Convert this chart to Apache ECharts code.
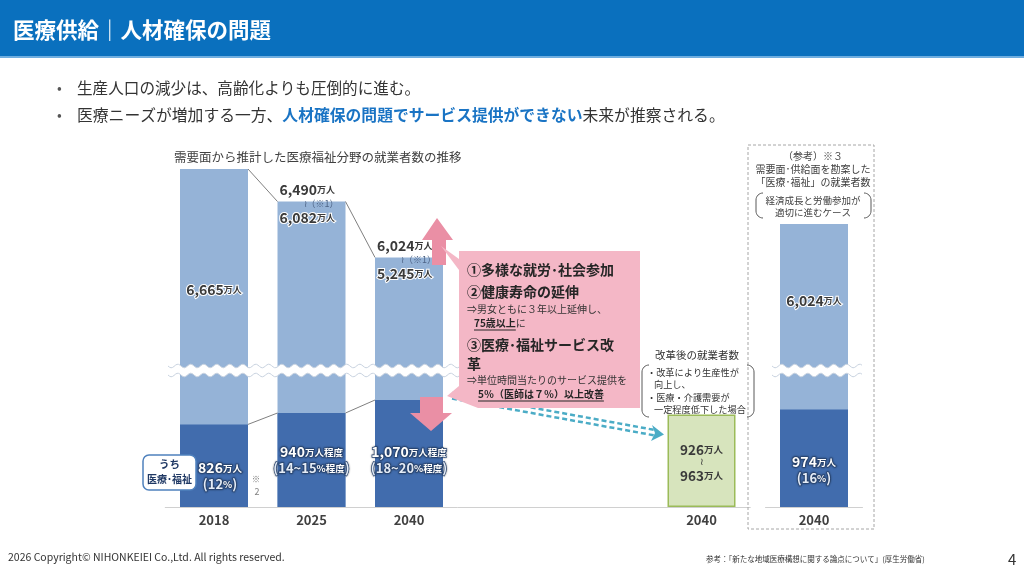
<!DOCTYPE html>
<html><head><meta charset="utf-8">
<script src="https://cdn.jsdelivr.net/npm/echarts@6/dist/echarts.min.js"></script>
<style>html,body{margin:0;padding:0;background:#fff}#c{width:1024px;height:576px}</style>
</head><body><div id="c"></div>
<script>
// ---------- data ----------
const categories = ['2018', '2025', '2040', '', '', '2040'];
const totalLow = [6665, 6082, 5245];
const totalHigh = [6665, 6490, 6024];
const medicalWorkers = [826, 940, 1070];
const medicalShare = ['12', '14~15', '18~20'];
const approxFlag = [false, true, true];
const reformRange = [926, 963];
const refCategories = ['2040'];
const refTotal = [6024];
const refMedical = [974];
const refShare = ['16'];

// ---------- helpers ----------
const FONT = '"Noto Sans CJK JP", "Noto Sans", sans-serif';
const fmt = v => v.toLocaleString('en-US');
const slots = categories.length;
const reformIdx = slots - 1;
function pad(arr, at) { const o = new Array(slots).fill(null); arr.forEach((v, i) => { o[(at || 0) + i] = v; }); return o; }
const totalsMid = totalLow.map((v, i) => (v + totalHigh[i]) / 2);

const LIGHT = '#95B3D7', DARK = '#416CAD', TXT = '#3A3A3A';
const BW = 68;

const upperRich = {
  n: { fontSize: 14, fontWeight: 'bold', color: TXT, fontFamily: FONT, lineHeight: 14, textBorderColor: '#fff', textBorderWidth: 2 },
  u: { fontSize: 9, fontWeight: 'bold', color: TXT, fontFamily: FONT, lineHeight: 14, textBorderColor: '#fff', textBorderWidth: 2 },
  s: { fontSize: 9, color: '#4E6486', fontFamily: FONT, lineHeight: 14, padding: [0, 0, 0, 24] }
};
const SH = { textShadowColor: 'rgba(0,0,0,0.45)', textShadowBlur: 2, textBorderColor: '#2F4F80', textBorderWidth: 1.5 };
const darkRich = {
  n: Object.assign({ fontSize: 14, fontWeight: 'bold', color: '#fff', fontFamily: FONT, lineHeight: 16 }, SH),
  u: Object.assign({ fontSize: 9.5, fontWeight: 'bold', color: '#fff', fontFamily: FONT, lineHeight: 16 }, SH),
  p: Object.assign({ fontSize: 13, fontWeight: 'bold', color: '#E4ECF7', fontFamily: FONT, lineHeight: 16 }, SH)
};
const greenRich = {
  g: { fontSize: 13.5, fontWeight: 'bold', color: TXT, fontFamily: FONT, lineHeight: 14 },
  gu: { fontSize: 9.5, fontWeight: 'bold', color: TXT, fontFamily: FONT, lineHeight: 14 },
  t: { fontSize: 10, color: TXT, lineHeight: 12 }
};

const upperData = pad(totalsMid.map((v, i) => ({
  value: v,
  label: totalLow[i] === totalHigh[i]
    ? { position: 'inside', offset: [0, 19], formatter: `{n|${fmt(totalLow[i])}}{u|万人}` }
    : { position: 'top', distance: 0, align: 'left', offset: [-BW / 2 + 2, 23],
        formatter: `{n|${fmt(totalHigh[i])}}{u|万人}\n{s|≀（※1）}\n{n|${fmt(totalLow[i])}}{u|万人}` }
})));

const medLabelDist = [15, 31, 31];
const medLabelOffset = [[6, 0], [0, 0], [0, 0]];
function medLabel(v, share, approx) {
  const a = approx ? '程度' : '';
  return `{n|${fmt(v)}}{u|万人${a}}\n{p|(${share}}{u|%${a}}{p|)}`;
}
const medData = pad(medicalWorkers.map((v, i) => ({
  value: v,
  label: { position: 'insideBottom', distance: medLabelDist[i], offset: medLabelOffset[i],
           formatter: medLabel(v, medicalShare[i], approxFlag[i]) }
})));

const reformData = pad([{
  value: reformRange[0],
  label: { show: true, position: 'inside', offset: [0, 2],
           formatter: `{g|${reformRange[0]}}{gu|万人}\n{t|≀}\n{g|${reformRange[1]}}{gu|万人}`, rich: greenRich }
}], reformIdx);

const grids = [
  { left: 165.25, width: 585, top: 372, bottom: 69 },   // main lower
  { left: 165.25, width: 585, top: 166, bottom: 204 },  // main upper
  { left: 765.5, width: 97, top: 372, bottom: 69 },     // ref lower
  { left: 765.5, width: 97, top: 166, bottom: 204 }     // ref upper
];
const xAxisLabel = { fontSize: 13, fontWeight: 'bold', color: '#404040', fontFamily: FONT, margin: 7 };
const xAxes = [
  { gridIndex: 0, type: 'category', data: categories, axisLine: { lineStyle: { color: '#D0D0D0' } }, axisTick: { show: false }, axisLabel: xAxisLabel },
  { gridIndex: 1, type: 'category', data: categories, show: false },
  { gridIndex: 2, type: 'category', data: refCategories, axisLine: { lineStyle: { color: '#D0D0D0' } }, axisTick: { show: false }, axisLabel: xAxisLabel },
  { gridIndex: 3, type: 'category', data: refCategories, show: false }
];
const yAxes = [
  { gridIndex: 0, type: 'value', min: 0, max: 1350, show: false },
  { gridIndex: 1, type: 'value', min: 4300, max: 6700, show: false },
  { gridIndex: 2, type: 'value', min: 0, max: 1350, show: false },
  { gridIndex: 3, type: 'value', min: 4300, max: 6700, show: false }
];
const barBase = { type: 'bar', barWidth: BW, barGap: '-100%', clip: true, silent: true, animation: false };
const darkLabelBase = { show: true, rich: darkRich, color: '#fff' };

const series = [
  Object.assign({}, barBase, { xAxisIndex: 0, yAxisIndex: 0, data: pad(totalsMid), itemStyle: { color: LIGHT } }),
  Object.assign({}, barBase, { xAxisIndex: 0, yAxisIndex: 0, data: medData, itemStyle: { color: DARK }, label: darkLabelBase }),
  Object.assign({}, barBase, { xAxisIndex: 0, yAxisIndex: 0, data: reformData,
    itemStyle: { color: '#D7E4BD', borderColor: '#9BBB59', borderWidth: 1.5 } }),
  Object.assign({}, barBase, { xAxisIndex: 1, yAxisIndex: 1, data: upperData, itemStyle: { color: LIGHT },
    label: { show: true, rich: upperRich, color: TXT } }),
  Object.assign({}, barBase, { xAxisIndex: 2, yAxisIndex: 2, data: refTotal, itemStyle: { color: LIGHT } }),
  Object.assign({}, barBase, { xAxisIndex: 2, yAxisIndex: 2, itemStyle: { color: DARK },
    data: refMedical.map((v, i) => ({ value: v, label: { position: 'insideBottom', distance: 21,
      formatter: `{n|${fmt(v)}}{u|万人}\n{p|(${refShare[i]}}{u|%}{p|)}` } })),
    label: darkLabelBase }),
  Object.assign({}, barBase, { xAxisIndex: 3, yAxisIndex: 3, itemStyle: { color: LIGHT },
    data: refTotal.map(v => ({ value: v, label: { position: 'inside', offset: [0, 3], formatter: `{n|${fmt(v)}}{u|万人}` } })),
    label: { show: true, rich: upperRich, color: TXT } })
];

const chart = echarts.init(document.getElementById('c'), null, { renderer: 'canvas' });
chart.setOption({ animation: false, backgroundColor: '#fff', grid: grids, xAxis: xAxes, yAxis: yAxes, series: series });

// ---------- decorations ----------
const G = [];
function txt(x, y, text, size, opt) {
  opt = opt || {};
  const st = { x: x, y: y, text: text, fontSize: size, fontFamily: FONT,
    fontWeight: opt.bold ? 'bold' : 'normal', fill: opt.color || '#333', align: opt.align || 'left', verticalAlign: 'middle' };
  if (opt.rich) st.rich = opt.rich;
  G.push({ type: 'text', z: opt.z || 50, style: st });
}
const mctx = document.createElement('canvas').getContext('2d');
function measure(text, size, bold) { mctx.font = (bold ? 'bold ' : '') + size + 'px ' + FONT; return mctx.measureText(text).width; }

// header
G.push({ type: 'rect', z: 1, shape: { x: 0, y: 0, width: 1024, height: 57 }, style: { fill: '#0A70BE' } });
G.push({ type: 'rect', z: 1, shape: { x: 0, y: 56, width: 1024, height: 2 }, style: { fill: '#6FAEE0' } });
txt(13, 30, '医療供給｜人材確保の問題', 21.5, { bold: true, color: '#fff' });

// bullets
txt(57, 88, '•', 14, { color: '#555' });
txt(57, 115, '•', 14, { color: '#555' });
txt(77, 88, '生産人口の減少は、高齢化よりも圧倒的に進む。', 15.6, { color: '#333' });
txt(77, 115, '{a|医療ニーズが増加する一方、}{b|人材確保の問題でサービス提供ができない}{a|未来が推察される。}', 16, {
  rich: { a: { fontSize: 15.8, fontFamily: FONT, fill: '#333' },
          b: { fontSize: 15.8, fontFamily: FONT, fill: '#1A74C4', fontWeight: 'bold' } } });

txt(174, 157, '需要面から推計した医療福祉分野の就業者数の推移', 12.5, { color: '#404040' });

// wave breaks
function wave(x0, x1, yc) {
  const top = [], bot = [];
  for (let x = x0; x <= x1; x += 1.5) {
    const s = 1.8 * Math.sin((x - x0) / 13 * 2 * Math.PI);
    top.push([x, yc - 4.5 + s]); bot.push([x, yc + 4.5 + s]);
  }
  G.push({ type: 'polygon', z: 60, shape: { points: top.concat(bot.slice().reverse()) }, style: { fill: '#fff' } });
  G.push({ type: 'polyline', z: 61, shape: { points: top }, style: { stroke: '#C9D3E0', lineWidth: 1, fill: null } });
  G.push({ type: 'polyline', z: 61, shape: { points: bot }, style: { stroke: '#C9D3E0', lineWidth: 1, fill: null } });
}
wave(168, 462, 370.5);
wave(772, 862, 370.5);

// connector lines between bars (from data through the axes)
const px = (g, c, v) => chart.convertToPixel({ gridIndex: g }, [c, v]);
for (let i = 0; i < totalsMid.length - 1; i++) {
  const a = px(1, i, totalsMid[i]), b = px(1, i + 1, totalsMid[i + 1]);
  G.push({ type: 'line', z: 55, shape: { x1: a[0] + BW / 2, y1: a[1], x2: b[0] - BW / 2, y2: b[1] }, style: { stroke: '#808080', lineWidth: 1 } });
  const c = px(0, i, medicalWorkers[i]), d = px(0, i + 1, medicalWorkers[i + 1]);
  G.push({ type: 'line', z: 55, shape: { x1: c[0] + BW / 2, y1: c[1], x2: d[0] - BW / 2, y2: d[1] }, style: { stroke: '#808080', lineWidth: 1 } });
}

// うち医療・福祉 box
G.push({ type: 'rect', z: 70, shape: { x: 143, y: 455, width: 53, height: 35, r: 6 }, style: { fill: '#fff', stroke: '#4F81BD', lineWidth: 1.5 } });
txt(169.5, 464, 'うち', 10.5, { bold: true, color: '#1F3864', align: 'center', z: 71 });
txt(169.5, 479, '医療･福祉', 10, { bold: true, color: '#1F3864', align: 'center', z: 71 });
txt(256, 479, '※', 8.5, { color: '#808080', align: 'center' });
txt(257, 492, '2', 9, { color: '#808080', align: 'center' });

// teal dashed arrow
G.push({ type: 'line', z: 62, shape: { x1: 452, y1: 393, x2: 655, y2: 430 }, style: { stroke: '#4BACC6', lineWidth: 2.5, lineDash: [5, 3] } });
G.push({ type: 'line', z: 62, shape: { x1: 452, y1: 398.5, x2: 655, y2: 435.5 }, style: { stroke: '#4BACC6', lineWidth: 2.5, lineDash: [5, 3] } });
G.push({ type: 'polygon', z: 62, shape: { points: [[664, 434.5], [652, 425], [655, 433], [651, 441]] }, style: { fill: '#4BACC6' } });

// pink arrows
const PINK = '#EA8FA5';
G.push({ type: 'polygon', z: 63, shape: { points: [[437, 218], [453, 240], [446, 240], [446, 265], [432, 265], [432, 240], [422, 240]] }, style: { fill: PINK } });
G.push({ type: 'polygon', z: 63, shape: { points: [[420, 397], [443, 397], [443, 413], [452, 413], [431, 431], [410, 413], [420, 413]] }, style: { fill: PINK } });

// pink callout
G.push({ type: 'polygon', z: 64, shape: { points: [[459, 251], [640, 251], [640, 408], [478, 408], [447, 396], [459, 386], [459, 270], [441, 246], [459, 259]] },
  style: { fill: '#F4B7C6' } });
txt(467, 270, '①多様な就労･社会参加', 14, { bold: true, color: '#262626', z: 65 });
txt(467, 292, '②健康寿命の延伸', 14, { bold: true, color: '#262626', z: 65 });
txt(467, 309, '⇒男女ともに３年以上延伸し、', 10, { color: '#333', z: 65 });
txt(474, 323, '{u|75歳以上}{r|に}', 10, { z: 65, rich: { u: { fontSize: 10, fontWeight: 'bold', fontFamily: FONT, fill: '#262626' }, r: { fontSize: 10, fontFamily: FONT, fill: '#333' } } });
const w1 = measure('75歳以上', 10, true);
G.push({ type: 'line', z: 65, shape: { x1: 474, y1: 330, x2: 474 + w1, y2: 330 }, style: { stroke: '#262626', lineWidth: 1 } });
txt(467, 345, '③医療･福祉サービス改', 14, { bold: true, color: '#262626', z: 65 });
txt(467, 364, '革', 14, { bold: true, color: '#262626', z: 65 });
txt(467, 380, '⇒単位時間当たりのサービス提供を', 10, { color: '#333', z: 65 });
txt(478, 394, '5％（医師は７％）以上改善', 10, { bold: true, color: '#262626', z: 65 });
const w2 = measure('5％（医師は７％）以上改善', 10, true);
G.push({ type: 'line', z: 65, shape: { x1: 478, y1: 401, x2: 478 + w2, y2: 401 }, style: { stroke: '#262626', lineWidth: 1 } });

// reform explanation
txt(655, 355, '改革後の就業者数', 10.5, { color: '#333' });
function bracket(x0, x1, y0, y1) {
  const r = 7, L = [], R = [];
  for (let k = 0; k <= 8; k++) { const t = Math.PI / 2 * k / 8; L.push([x0 + r - r * Math.sin(t), y0 + r - r * Math.cos(t)]); R.push([x1 - r + r * Math.sin(t), y0 + r - r * Math.cos(t)]); }
  for (let k = 8; k >= 0; k--) { const t = Math.PI / 2 * k / 8; L.push([x0 + r - r * Math.sin(t), y1 - r + r * Math.cos(t)]); R.push([x1 - r + r * Math.sin(t), y1 - r + r * Math.cos(t)]); }
  G.push({ type: 'polyline', z: 50, shape: { points: L }, style: { stroke: '#595959', lineWidth: 1, fill: null } });
  G.push({ type: 'polyline', z: 50, shape: { points: R }, style: { stroke: '#595959', lineWidth: 1, fill: null } });
}
bracket(642, 754, 365, 417);
txt(647, 373, '・改革により生産性が', 9.2, { color: '#333' });
txt(654, 385, '向上し、', 9.2, { color: '#333' });
txt(647, 398, '・医療・介護需要が', 9.2, { color: '#333' });
txt(654, 410, '一定程度低下した場合', 9.2, { color: '#333' });

// reference dashed box
G.push({ type: 'rect', z: 5, shape: { x: 748, y: 145, width: 126, height: 384 }, style: { fill: null, stroke: '#A6A6A6', lineWidth: 1, lineDash: [3, 2] } });
txt(813, 156, '（参考）※３', 10, { color: '#404040', align: 'center' });
txt(813, 169, '需要面･供給面を勘案した', 10, { color: '#404040', align: 'center' });
txt(813, 182, '「医療･福祉」の就業者数', 10, { color: '#404040', align: 'center' });
bracket(756, 871, 193, 218);
txt(813, 200, '経済成長と労働参加が', 9.5, { color: '#404040', align: 'center' });
txt(813, 212, '適切に進むケース', 9.5, { color: '#404040', align: 'center' });

// footer
txt(8, 557, '2026 Copyright© NIHONKEIEI Co.,Ltd. All rights reserved.', 10.5, { color: '#333' });
txt(706, 559, '参考：「新たな地域医療構想に関する論点について」(厚生労働省)', 7.5, { color: '#333' });
txt(1008, 559, '4', 15, { color: '#333' });

chart.setOption({ graphic: { elements: G } });
</script></body></html>
